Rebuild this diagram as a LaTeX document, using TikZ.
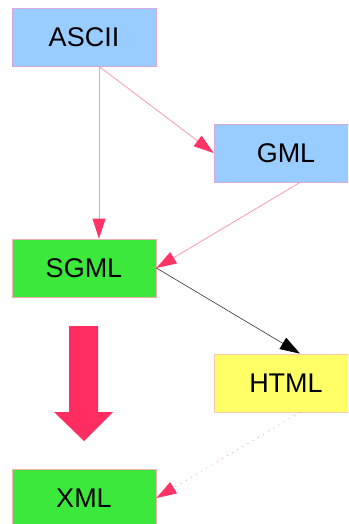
\documentclass[tikz,border=0pt]{standalone}
\usepackage{fontspec}
\setmainfont{Liberation Sans}
\usetikzlibrary{arrows.meta}
\definecolor{boxblue}{HTML}{99CCFF}
\definecolor{blueborder}{HTML}{D8A8D8}
\definecolor{boxgreen}{HTML}{3CE83C}
\definecolor{greenborder}{HTML}{F0B0B0}
\definecolor{boxyellow}{HTML}{FFFF66}
\definecolor{yellowborder}{HTML}{FFC8A8}
\definecolor{linepink}{HTML}{FF9AB0}
\definecolor{tippink}{HTML}{FF3366}
\definecolor{bigpink}{HTML}{FF2D62}
\begin{document}
\begin{tikzpicture}[x=1pt,y=-1pt,
  box/.style={rectangle, minimum width=144pt, minimum height=58pt, inner sep=0pt,
    font=\fontsize{27}{27}\selectfont, line width=0.8pt},
  pinkarrow/.style={draw=linepink, line width=0.8pt,
    -{Triangle[length=20pt,width=13pt,color=tippink]}},
  blackarrow/.style={draw=black!80, line width=0.6pt,
    -{Triangle[length=20pt,width=13pt,color=black]}},
  dotarrow/.style={pinkarrow, dash pattern=on 1pt off 5pt}]
\useasboundingbox (0,0) rectangle (348,524);
\clip (0,0) rectangle (348,524);
\node[box, fill=boxblue, draw=blueborder] (ascii) at (84,37) {ASCII};
\node[box, fill=boxblue, draw=blueborder] (gml) at (286,153) {GML};
\node[box, fill=boxgreen, draw=greenborder] (sgml) at (84,268) {SGML};
\node[box, fill=boxyellow, draw=yellowborder] (html) at (286,383) {HTML};
\node[box, fill=boxgreen, draw=greenborder] (xml) at (84,498) {XML};
\draw[pinkarrow] ([xshift=15pt]ascii.south) -- ([xshift=15pt]sgml.north);
\draw[pinkarrow] ([xshift=15pt]ascii.south) -- (gml.west);
\draw[pinkarrow] ([xshift=14pt]gml.south) -- (sgml.east);
\draw[blackarrow] (sgml.east) -- ([xshift=14pt]html.north);
\draw[dotarrow] ([xshift=14pt]html.south) -- (xml.east);
\fill[bigpink] (69,326) -- (98,326) -- (98,412) -- (113,412) -- (84,441) -- (54,412) -- (69,412) -- cycle;
\end{tikzpicture}
\end{document}
